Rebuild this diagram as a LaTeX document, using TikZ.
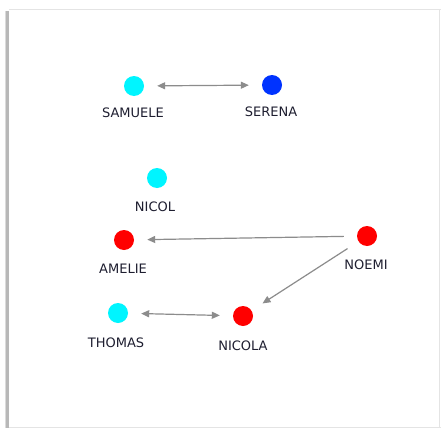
\documentclass[tikz,border=0pt]{standalone}
\usepackage{fontspec}
\setmainfont{DejaVu Sans}
\usetikzlibrary{arrows.meta,positioning}
\definecolor{cyannode}{HTML}{00F5FF}
\definecolor{bluenode}{HTML}{0033FF}
\definecolor{rednode}{HTML}{FF0000}
\definecolor{linkgray}{HTML}{8C8C8C}
\definecolor{frameline}{HTML}{E4E4E4}
\definecolor{nametext}{HTML}{1E1E30}

\begin{document}
\begin{tikzpicture}[x=1pt,y=-1pt,
  person/.style={circle,inner sep=0pt,minimum size=20pt,draw=none},
  nametag/.style={font=\fontsize{13}{15}\selectfont,text=nametext,inner sep=0pt},
  link/.style={linkgray,line width=1.2pt,shorten <=13pt,shorten >=13pt,
    -{Triangle[length=8pt,width=7pt]}},
  twoway/.style={link,{Triangle[length=8pt,width=7pt]}-{Triangle[length=8pt,width=7pt]}}]
  \useasboundingbox (0,0) rectangle (441,428);
  % panel
  \fill[white] (7,9) rectangle (440,427);
  \fill[black!28] (6,11) rectangle (9,428);
  \fill[black!14] (4.5,11) rectangle (6,428);
  \draw[frameline,line width=1pt] (9,9.5) -- (441,9.5);
  \draw[frameline,line width=1pt] (9,427) -- (441,427);
  \draw[frameline,line width=0.8pt] (439.5,9.5) -- (439.5,427);
  % people
  \node[person,fill=cyannode] (samuele) at (134,86) {};
  \node[person,fill=bluenode] (serena) at (272,85) {};
  \node[person,fill=cyannode] (nicol) at (157,178) {};
  \node[person,fill=rednode] (amelie) at (124,240) {};
  \node[person,fill=rednode] (noemi) at (367,236) {};
  \node[person,fill=cyannode] (thomas) at (118,313) {};
  \node[person,fill=rednode] (nicola) at (243,316) {};
  % names
  \node[nametag] (samuelename) at (133,113) {SAMUELE};
  \node[nametag] (serenaname) at (271,112) {SERENA};
  \node[nametag] (nicolname) at (155,207) {NICOL};
  \node[nametag] (ameliename) at (123,269) {AMELIE};
  \node[nametag] (noeminame) at (366,265) {NOEMI};
  \node[nametag] (thomasname) at (116,343) {THOMAS};
  \node[nametag] (nicolaname) at (243,346) {NICOLA};
  % links
  \draw[twoway] (samuele) -- (serena);
  \draw[twoway] (thomas) -- (nicola);
  \draw[link] (noemi) -- (amelie);
  \draw[link] (noemi) -- (nicola);
\end{tikzpicture}
\end{document}
